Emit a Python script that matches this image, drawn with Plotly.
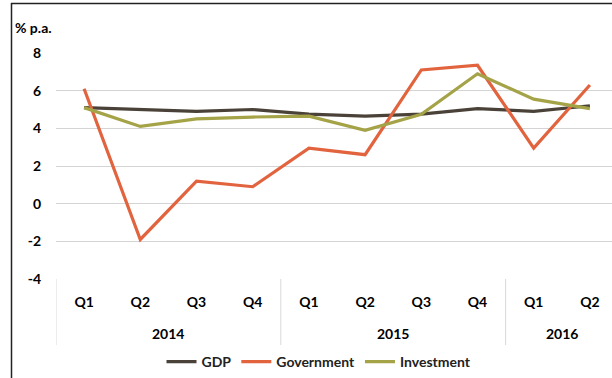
import plotly.graph_objects as go

quarters = ["Q1", "Q2", "Q3", "Q4", "Q1", "Q2", "Q3", "Q4", "Q1", "Q2"]
years = ["2014", "2015", "2016"]
year_spans = [4, 4, 2]
gdp = [5.1, 5.0, 4.9, 5.0, 4.75, 4.65, 4.75, 5.05, 4.9, 5.2]
government = [6.1, -1.9, 1.2, 0.9, 2.95, 2.6, 7.1, 7.35, 2.95, 6.3]
investment = [5.1, 4.1, 4.5, 4.6, 4.65, 3.9, 4.75, 6.9, 5.55, 5.05]
y_ticks = [-4, -2, 0, 2, 4, 6, 8]

W, H = 612, 378
L, R, T, B = 56, 0, 53, 99
pw, ph = W - L - R, H - T - B

def px_x(p):
    return (p - L) / pw

def px_y(p):
    return (H - B - p) / ph

FONT = "Lato"
x = list(range(len(quarters)))

fig = go.Figure()
fig.add_trace(go.Scatter(x=x, y=gdp, name="<b>GDP</b>", mode="lines",
                         line=dict(color="#4a4238", width=3.2)))
fig.add_trace(go.Scatter(x=x, y=government, name="<b>Government</b>", mode="lines",
                         line=dict(color="#e2643f", width=3.2)))
fig.add_trace(go.Scatter(x=x, y=investment, name="<b>Investment</b>", mode="lines",
                         line=dict(color="#a5a348", width=3.2)))

fig.update_layout(
    width=W, height=H,
    margin=dict(l=L, r=R, t=T, b=B),
    paper_bgcolor="white", plot_bgcolor="white",
    font=dict(family=FONT, size=13, color="#000"),
    showlegend=True,
    legend=dict(orientation="h", x=px_x(319), xanchor="center",
                y=px_y(362), yanchor="middle", itemwidth=30,
                font=dict(family=FONT, size=14, color="#222"),
                tracegroupgap=0, itemclick=False),
)

fig.update_xaxes(range=[-0.5, -0.5 + pw / 56.2], tickmode="array",
                 tickvals=x, ticktext=["<b>%s</b>" % q for q in quarters],
                 showgrid=False, zeroline=False, showline=False, ticks="",
                 ticklabelstandoff=13, tickfont=dict(size=14, color="#000"))
fig.update_yaxes(range=[-4, 8], tickmode="array", tickvals=y_ticks,
                 ticktext=["<b>%d</b>" % v for v in y_ticks],
                 showgrid=True, gridcolor="#d4d4d4", gridwidth=1,
                 zeroline=False, showline=False, ticks="",
                 ticklabelstandoff=14, tickfont=dict(size=14, color="#000"))

# year labels and dividers
start = 0
fig.add_shape(type="line", xref="x", yref="paper", x0=-0.5, x1=-0.5,
              y0=0, y1=px_y(345), line=dict(color="#d9d9d9", width=1))
for yr, span in zip(years, year_spans):
    mid = start + (span - 1) / 2
    fig.add_annotation(text="<b>%s</b>" % yr, x=mid, xref="x", y=px_y(333),
                       yref="paper", yanchor="middle", showarrow=False,
                       font=dict(family=FONT, size=14, color="#000"))
    end = start + span - 0.5
    if end < len(quarters) - 0.5:
        fig.add_shape(type="line", xref="x", yref="paper", x0=end, x1=end,
                      y0=0, y1=px_y(345), line=dict(color="#d9d9d9", width=1))
    start += span

fig.add_annotation(text="<b>% p.a.</b>", x=px_x(13), xref="paper", xanchor="left",
                   y=px_y(27), yref="paper", yanchor="middle", showarrow=False,
                   font=dict(family=FONT, size=14, color="#000"))

# frame borders
fig.add_shape(type="line", xref="paper", yref="paper", x0=px_x(11.5), x1=px_x(11.5),
              y0=px_y(3), y1=px_y(378), line=dict(color="#222", width=1.5))
fig.add_shape(type="line", xref="paper", yref="paper", x0=px_x(11), x1=px_x(612),
              y0=px_y(3.5), y1=px_y(3.5), line=dict(color="#222", width=1.5))

fig.write_html("out.html")
